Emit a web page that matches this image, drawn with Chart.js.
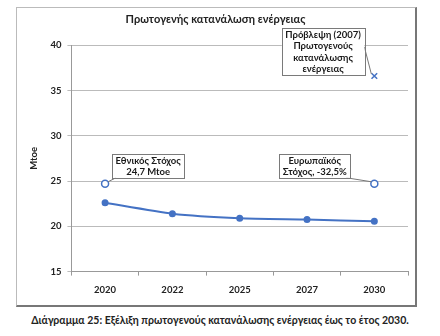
<!DOCTYPE html>
<html>
<head>
<meta charset="utf-8">
<script src="https://cdn.jsdelivr.net/npm/chart.js@4"></script>
<style>
  body { margin: 0; background: #fff; font-family: Lato, "Noto Sans", sans-serif; }
  #frame { position: absolute; left: 16px; top: 7px; width: 398px; height: 297px;
           border: 1px solid #bbb; border-right: 2px solid #777; border-bottom: 2px solid #777; }
  #caption { position: absolute; left: 0; top: 314px; width: 440px; text-align: center;
             font-weight: bold; font-size: 10.5px; color: #222; }
</style>
</head>
<body>
<div id="frame"><canvas id="chart" width="398" height="297"></canvas></div>
<div id="caption">Διάγραμμα 25: Εξέλιξη πρωτογενούς κατανάλωσης ενέργειας έως το έτος 2030.</div>
<script>
const years = ['2020', '2022', '2025', '2027', '2030'];
const consumption = [22.6, 21.4, 20.9, 20.75, 20.55];
const targets = [24.7, null, null, null, 24.7];
const forecast2007 = [null, null, null, null, 36.6];

const blue = 'rgb(68, 114, 196)';
const font = 'Lato, "Noto Sans", sans-serif';

// callout boxes: side = which side of the point the box sits on
const callouts = [
  {ds: 1, idx: 0, lines: ['Εθνικός Στόχος', '24,7 Mtoe'], side: 'right', gap: 7, dy: -30},
  {ds: 1, idx: 4, lines: ['Ευρωπαϊκός', 'Στόχος, -32,5%'], side: 'left', gap: 24, dy: -30},
  {ds: 2, idx: 4, lines: ['Πρόβλεψη (2007)', 'Πρωτογενούς', 'κατανάλωσης', 'ενέργειας'], side: 'left', gap: 10, dy: -48}
];

const calloutPlugin = {
  id: 'callouts',
  afterDatasetsDraw(chart) {
    const ctx = chart.ctx;
    ctx.save();
    ctx.font = 'bold 9.5px ' + font;
    for (let c of callouts) {
      const pt = chart.getDatasetMeta(c.ds).data[c.idx];
      let w = 0;
      for (let l of c.lines) w = Math.max(w, ctx.measureText(l).width);
      w += 7;
      const lh = 11.5;
      const h = c.lines.length * lh + 1;
      const bx = c.side === 'right' ? pt.x + c.gap : pt.x - c.gap - w;
      const by = pt.y + c.dy;
      // leader line
      ctx.strokeStyle = '#777';
      ctx.lineWidth = 1;
      ctx.beginPath();
      if (c.side === 'right') {
        ctx.moveTo(bx + 4, by + h);
        ctx.lineTo(pt.x + 3, pt.y - 2);
      } else if (c.lines.length > 2) {
        ctx.moveTo(bx + w, by + h * 0.4);
        ctx.lineTo(pt.x - 3, pt.y - 2);
      } else {
        ctx.moveTo(bx + w - 4, by + h);
        ctx.lineTo(pt.x - 3, pt.y - 2);
      }
      ctx.stroke();
      ctx.fillStyle = '#fff';
      ctx.fillRect(bx, by, w, h);
      ctx.strokeStyle = '#7a7a7a';
      ctx.strokeRect(Math.round(bx) + 0.5, Math.round(by) + 0.5, Math.round(w), Math.round(h));
      ctx.fillStyle = '#1a1a1a';
      ctx.textAlign = 'center';
      ctx.textBaseline = 'top';
      c.lines.forEach((l, i) => ctx.fillText(l, bx + w / 2, by + 2 + i * lh));
    }
    ctx.restore();
  }
};

new Chart(document.getElementById('chart'), {
  type: 'line',
  data: {
    labels: years,
    datasets: [
      {
        label: 'Κατανάλωση',
        data: consumption,
        borderColor: blue,
        backgroundColor: blue,
        borderWidth: 2,
        pointRadius: 2.5,
        pointStyle: 'circle',
        tension: 0.2
      },
      {
        label: 'Στόχος',
        data: targets,
        showLine: false,
        borderColor: blue,
        backgroundColor: '#fff',
        borderWidth: 1.5,
        pointRadius: 3.5
      },
      {
        label: 'Πρόβλεψη',
        data: forecast2007,
        showLine: false,
        borderColor: blue,
        pointStyle: 'crossRot',
        borderWidth: 1.5,
        pointRadius: 4
      }
    ]
  },
  plugins: [calloutPlugin],
  options: {
    responsive: false,
    animation: false,
    layout: {padding: {left: 6, right: 7, top: 0, bottom: 0}},
    plugins: {
      legend: {display: false},
      tooltip: {enabled: false},
      title: {
        display: true,
        text: 'Πρωτογενής κατανάλωση ενέργειας',
        color: '#222',
        font: {family: font, size: 11, weight: 'bold'},
        padding: {top: 5, bottom: 19}
      }
    },
    scales: {
      x: {
        offset: true,
        grid: {display: true, offset: true, drawOnChartArea: false, color: '#999', tickLength: 4},
        border: {color: '#999'},
        ticks: {color: '#222', font: {family: font, size: 9.5, weight: 'bold'}, padding: 9}
      },
      y: {
        min: 15,
        max: 40,
        ticks: {stepSize: 5, color: '#222', font: {family: font, size: 9.5, weight: 'bold'}, padding: 6},
        grid: {color: '#bbb', tickLength: 4},
        border: {color: '#999'},
        title: {display: true, text: 'Mtoe', color: '#222', font: {family: font, size: 9.5, weight: 'bold'}, padding: 5}
      }
    }
  }
});
</script>
</body>
</html>
